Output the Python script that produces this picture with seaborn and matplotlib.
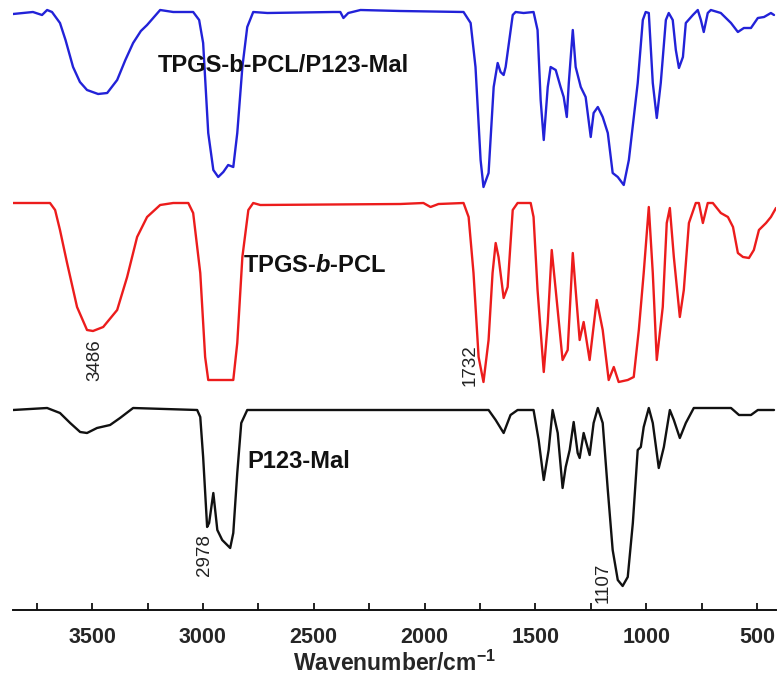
import matplotlib
matplotlib.use("Agg")
import matplotlib.pyplot as plt
import seaborn as sns
import pandas as pd
from matplotlib.ticker import MultipleLocator

sns.set_theme(style="white")
plt.rcParams["font.family"] = ["Liberation Sans", "DejaVu Sans"]
plt.rcParams["mathtext.fontset"] = "custom"
plt.rcParams["mathtext.rm"] = "Liberation Sans:bold"
plt.rcParams["mathtext.bfit"] = "Liberation Sans:bold:italic"
plt.rcParams["mathtext.default"] = "regular"

# FTIR spectra (wavenumber in cm-1, stacked transmittance in a.u.)
blend_wn = [3857, 3767, 3726, 3703, 3681, 3645, 3620, 3586, 3555, 3523, 3473, 3432, 3387, 3350,
            3315, 3280, 3252, 3193, 3134, 3044, 3017, 2999, 2976, 2953, 2931, 2908, 2886, 2863,
            2845, 2822, 2800, 2773, 2709, 2411, 2380, 2366, 2344, 2289, 2109, 1824, 1792, 1770,
            1747, 1734, 1711, 1688, 1670, 1657, 1643, 1634, 1602, 1589, 1553, 1508, 1490, 1476,
            1462, 1444, 1431, 1408, 1386, 1372, 1358, 1349, 1331, 1318, 1295, 1273, 1250, 1237,
            1218, 1196, 1173, 1151, 1128, 1101, 1078, 1038, 1015, 1002, 988, 970, 952, 934, 911,
            898, 880, 866, 852, 834, 821, 789, 767, 753, 740, 722, 708, 663, 617, 586, 559, 527,
            496, 468, 437, 423]
blend_t = [596, 598, 595, 600, 598, 587, 570, 543, 528, 520, 516, 517, 530, 550,
           567, 579, 585, 600, 598, 598, 590, 567, 477, 440, 433, 438, 445, 443,
           477, 543, 583, 598, 597, 598, 598, 592, 597, 600, 599, 598, 587, 543,
           450, 423, 437, 523, 547, 538, 535, 543, 595, 598, 597, 598, 580, 510,
           470, 523, 543, 540, 523, 513, 493, 527, 580, 543, 523, 513, 473, 497,
           503, 493, 477, 437, 433, 425, 450, 527, 590, 598, 597, 527, 492, 527, 590,
           597, 590, 560, 542, 553, 587, 595, 600, 590, 578, 597, 600, 597, 587, 578, 582, 582,
           592, 593, 597, 595]

tpgs_wn = [3857, 3690, 3667, 3645, 3613, 3568, 3523, 3496, 3450, 3387, 3342, 3297, 3252, 3193,
           3134, 3066, 3044, 3012, 2990, 2976, 2935, 2863, 2845, 2822, 2795, 2773, 2741, 2109,
           2005, 1973, 1937, 1824, 1801, 1779, 1756, 1734, 1711, 1693, 1679, 1666, 1643, 1625,
           1602, 1580, 1521, 1508, 1490, 1462, 1444, 1426, 1408, 1377, 1354, 1331, 1318, 1300,
           1282, 1255, 1223, 1196, 1169, 1146, 1124, 1083, 1056, 1033, 1011, 988, 970, 952, 925,
           907, 893, 875, 848, 830, 807, 776, 762, 744, 722, 699, 663, 631, 608, 586, 563, 536,
           514, 491, 459, 437, 414]
tpgs_t = [407, 407, 400, 380, 347, 303, 280, 279, 283, 300, 333, 373, 393, 405,
          407, 407, 397, 337, 253, 230, 230, 230, 267, 353, 400, 407, 405, 406,
          407, 403, 406, 407, 393, 337, 253, 228, 270, 337, 367, 353, 312, 323,
          400, 407, 407, 393, 320, 238, 287, 360, 320, 250, 260, 357, 320, 270,
          288, 250, 310, 280, 230, 243, 228, 230, 233, 280, 337, 403, 337, 250, 303,
          387, 402, 353, 293, 320, 387, 407, 407, 387, 407, 407, 397, 393, 383, 357, 353, 352,
          360, 380, 387, 393, 402]

p123_wn = [3857, 3703, 3645, 3599, 3554, 3523, 3478, 3419, 3374, 3315, 3026, 3012, 2999, 2981,
           2972, 2953, 2935, 2913, 2877, 2863, 2845, 2827, 2800, 2109, 1711, 1679, 1643, 1612,
           1580, 1508, 1485, 1462, 1440, 1422, 1399, 1377, 1363, 1345, 1327, 1309, 1300, 1282,
           1255, 1237, 1218, 1196, 1173, 1151, 1128, 1106, 1083, 1060, 1038, 1024, 1011, 988,
           970, 943, 920, 893, 875, 848, 821, 785, 617, 581, 527, 496, 423]
p123_t = [200, 202, 197, 187, 178, 177, 182, 185, 192, 202, 200, 193, 153, 83,
          87, 117, 80, 70, 62, 77, 137, 187, 200, 200, 200, 190, 177, 195,
          200, 200, 170, 130, 160, 200, 177, 122, 143, 160, 188, 157, 152, 177,
          155, 187, 202, 187, 120, 60, 30, 24, 33, 87, 160, 163, 183, 202,
          187, 142, 163, 200, 190, 172, 187, 202, 202, 195, 195, 200, 200]

names = ["TPGS-b-PCL/P123-Mal", "TPGS-$\\mathbfit{b}$-PCL", "P123-Mal"]
colors = ["#2222d8", "#ec1c1c", "#111111"]
label_pos = [(3205, 544), (2818, 345), (2800, 148)]

peak_text = ["3486", "1732", "2978", "1107"]
peak_pos = [(3486, 250), (1792, 245), (2994, 55), (1196, 27)]

series = [(blend_wn, blend_t), (tpgs_wn, tpgs_t), (p123_wn, p123_t)]

fig = plt.figure(figsize=(7.81, 6.79), dpi=100)
ax = fig.add_axes([13 / 781, 69 / 679, 763 / 781, 610 / 679])

for (wn, t), c in zip(series, colors):
    df = pd.DataFrame({"wn": wn, "t": t})
    sns.lineplot(data=df, x="wn", y="t", color=c, lw=1.7, ax=ax,
                 estimator=None, sort=False, solid_joinstyle="round")

for name, (x, y), c in zip(names, label_pos, colors):
    ax.text(x, y, name, fontsize=17, fontweight="bold", color="#111111",
            ha="left", va="center")

for txt, (x, y) in zip(peak_text, peak_pos):
    ax.text(x, y, txt, fontsize=13.5, rotation=90, ha="center", va="center",
            color="#222222")

ax.set_xlim(3857, 414)
ax.set_ylim(0, 610)
ax.xaxis.set_major_locator(MultipleLocator(500))
ax.xaxis.set_minor_locator(MultipleLocator(250))
ax.tick_params(axis="x", which="both", direction="in", bottom=True, length=5,
               width=1.3, color="#111111", labelsize=15.5, pad=12)
for lab in ax.get_xticklabels():
    lab.set_fontweight("bold")
ax.set_yticks([])
ax.set_ylabel("")
ax.set_xlabel("Wavenumber/cm$^{-1}$", fontsize=16.5, fontweight="bold", labelpad=2)
for s in ["top", "left", "right"]:
    ax.spines[s].set_visible(False)
ax.spines["bottom"].set_color("#111111")
ax.spines["bottom"].set_linewidth(1.4)
ax.patch.set_alpha(0)

fig.savefig("out.png", dpi=100)
